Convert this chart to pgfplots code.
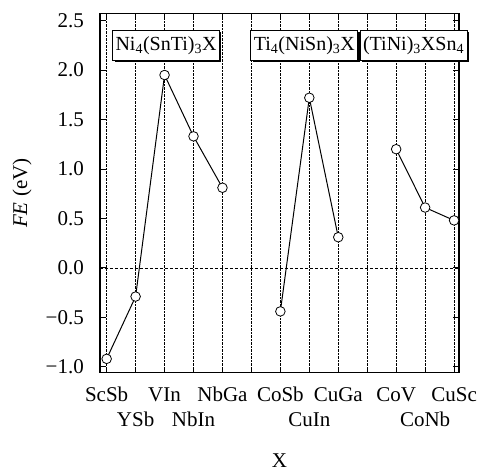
\documentclass[border=0pt]{standalone}
\usepackage{fontspec}
\setmainfont{Liberation Serif}
\usepackage{pgfplots}
\pgfplotsset{compat=1.18}
\usetikzlibrary{shadows}
\begin{document}
\fontsize{21}{25}\selectfont
\begin{tikzpicture}
\begin{axis}[
  scale only axis, width=359pt, height=359pt,
  xmin=-0.23, xmax=12.17, ymin=-1.06, ymax=2.57,
  xtick={0,1,2,3,4,5,6,7,8,9,10,11,12},
  xticklabels={{\strut ScSb},{\strut\\YSb},{\strut VIn},{\strut\\NbIn},{\strut NbGa},{},{\strut CoSb},{\strut\\CuIn},{\strut CuGa},{},{\strut CoV},{\strut\\CoNb},{\strut CuSc}},
  xticklabel style={align=center, yshift=-4pt},
  ytick={-1,-0.5,0,0.5,1,1.5,2,2.5},
  yticklabels={−1.0,−0.5,0.0,0.5,1.0,1.5,2.0,2.5},
  yticklabel style={xshift=-9pt},
  tick align=inside, major tick length=6pt,
  tick style={black, line width=0.8pt},
  xmajorgrids, major grid style={densely dotted, black, line width=0.5pt},
  axis line style={line width=1.4pt},
  xlabel={X}, ylabel={\textit{FE} (eV)},
  xlabel style={at={(axis description cs:0.5,-0.2627)}, anchor=base},
  ylabel style={at={(axis description cs:-0.217,0.5)}, anchor=center},
  clip=false,
]
\draw[densely dashed, line width=0.7pt] (axis cs:-0.23,0) -- (axis cs:12.17,0);
\addplot[black, line width=1pt, mark=*, mark size=4.8pt, mark options={fill=white, draw=black, line width=0.8pt}]
  coordinates {(0,-0.92) (1,-0.29) (2,1.95) (3,1.33) (4,0.81)};
\addplot[black, line width=1pt, mark=*, mark size=4.8pt, mark options={fill=white, draw=black, line width=0.8pt}]
  coordinates {(6,-0.44) (7,1.72) (8,0.31)};
\addplot[black, line width=1pt, mark=*, mark size=4.8pt, mark options={fill=white, draw=black, line width=0.8pt}]
  coordinates {(10,1.20) (11,0.61) (12,0.48)};
\tikzset{lbl/.style={draw, fill=white, line width=1pt, inner xsep=3pt, inner ysep=6pt,
  font=\fontsize{20}{24}\selectfont,
  drop shadow={shadow xshift=2pt, shadow yshift=-2pt, fill=black, opacity=1}}}
\node[lbl] at (axis cs:2.05,2.25) {Ni\textsubscript{4}(SnTi)\textsubscript{3}X};
\node[lbl] at (axis cs:6.83,2.25) {Ti\textsubscript{4}(NiSn)\textsubscript{3}X};
\node[lbl] at (axis cs:10.6,2.25) {(TiNi)\textsubscript{3}XSn\textsubscript{4}};
\end{axis}
\pgfresetboundingbox
\path ([shift={(-100pt,-98.3pt)}]current axis.south west) rectangle ([shift={(23pt,13.7pt)}]current axis.north east);
\end{tikzpicture}
\end{document}
